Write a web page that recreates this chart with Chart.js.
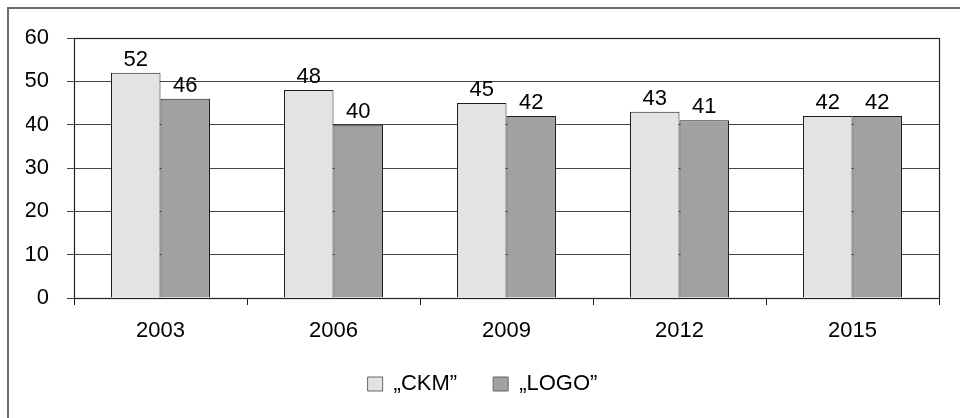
<!DOCTYPE html>
<html>
<head>
<meta charset="utf-8">
<script src="https://cdn.jsdelivr.net/npm/chart.js@4/dist/chart.umd.min.js"></script>
<style>
  html, body { margin: 0; padding: 0; background: #fff; }
  #wrap { position: relative; width: 960px; height: 418px; }
</style>
</head>
<body>
<div id="wrap"><canvas id="chart" width="960" height="418"></canvas></div>
<script>
// Survey years and the two series
const years = ['2003', '2006', '2009', '2012', '2015'];
const ckm = [52, 48, 45, 43, 42];
const logo = [46, 40, 42, 41, 42];
const seriesNames = ['\u201eCKM\u201d', '\u201eLOGO\u201d'];
const yTicks = [0, 10, 20, 30, 40, 50, 60];

const FONT = '"Liberation Sans", Arial, sans-serif';
const TEXT = '#000';

// Frame around the whole figure (left and top edges)
const outerFrame = {
  id: 'outerFrame',
  beforeDraw(chart) {
    const ctx = chart.ctx;
    ctx.save();
    ctx.fillStyle = '#fff';
    ctx.fillRect(0, 0, chart.width, chart.height);
    ctx.strokeStyle = '#6a6a6a';
    ctx.lineWidth = 2;
    ctx.beginPath();
    ctx.moveTo(8, chart.height);
    ctx.lineTo(8, 8);
    ctx.lineTo(chart.width, 8);
    ctx.stroke();
    ctx.restore();
  }
};

// Border around the plot area
const plotBorder = {
  id: 'plotBorder',
  beforeDatasetsDraw(chart) {
    const a = chart.chartArea, ctx = chart.ctx;
    ctx.save();
    ctx.strokeStyle = '#222';
    ctx.lineWidth = 1.2;
    ctx.strokeRect(Math.round(a.left) + 0.5, Math.round(a.top) + 0.5,
                   Math.round(a.right - a.left), Math.round(a.bottom - a.top));
    ctx.restore();
  }
};

// Value labels above each bar
const valueLabels = {
  id: 'valueLabels',
  afterDatasetsDraw(chart) {
    const ctx = chart.ctx;
    ctx.save();
    ctx.font = '22px ' + FONT;
    ctx.fillStyle = TEXT;
    ctx.textAlign = 'center';
    ctx.textBaseline = 'alphabetic';
    chart.data.datasets.forEach((ds, i) => {
      chart.getDatasetMeta(i).data.forEach((bar, j) => {
        ctx.fillText(String(ds.data[j]), bar.x, bar.y - 7);
      });
    });
    ctx.restore();
  }
};

new Chart(document.getElementById('chart'), {
  type: 'bar',
  data: {
    labels: years,
    datasets: [
      { label: seriesNames[0], data: ckm, backgroundColor: '#e2e3e2', borderColor: '#1a1a1a', borderWidth: 1 },
      { label: seriesNames[1], data: logo, backgroundColor: '#a0a1a3', borderColor: '#1a1a1a', borderWidth: 1 }
    ]
  },
  options: {
    responsive: false,
    animation: false,
    devicePixelRatio: 1,
    layout: { padding: { left: 26, right: 21, top: 38, bottom: 13 } },
    datasets: { bar: { categoryPercentage: 0.572, barPercentage: 1.0 } },
    scales: {
      x: {
        grid: { display: true, offset: true, drawOnChartArea: false, drawTicks: true, tickLength: 7, color: '#222', lineWidth: 1 },
        border: { display: true, color: '#222', width: 1 },
        ticks: { font: { family: FONT, size: 22 }, color: TEXT, padding: 13 },
        afterFit(scale) { scale.height = 39; }
      },
      y: {
        min: 0, max: 60,
        afterBuildTicks(scale) { scale.ticks = yTicks.map(v => ({ value: v })); },
        grid: { color: '#444', lineWidth: 1, tickLength: 7, drawTicks: true },
        border: { display: true, color: '#222', width: 1 },
        ticks: { font: { family: FONT, size: 22 }, color: TEXT, padding: 18 },
        afterFit(scale) { scale.width = 48; }
      }
    },
    plugins: {
      legend: {
        position: 'bottom',
        labels: {
          font: { family: FONT, size: 22 },
          color: TEXT,
          boxWidth: 15,
          boxHeight: 14,
          padding: 36,
          generateLabels(chart) {
            return chart.data.datasets.map((ds, i) => ({
              text: ds.label,
              fillStyle: ds.backgroundColor,
              strokeStyle: '#666',
              lineWidth: 1,
              hidden: false,
              datasetIndex: i,
              fontColor: TEXT
            }));
          }
        }
      },
      tooltip: { enabled: false }
    }
  },
  plugins: [outerFrame, plotBorder, valueLabels]
});
</script>
</body>
</html>
